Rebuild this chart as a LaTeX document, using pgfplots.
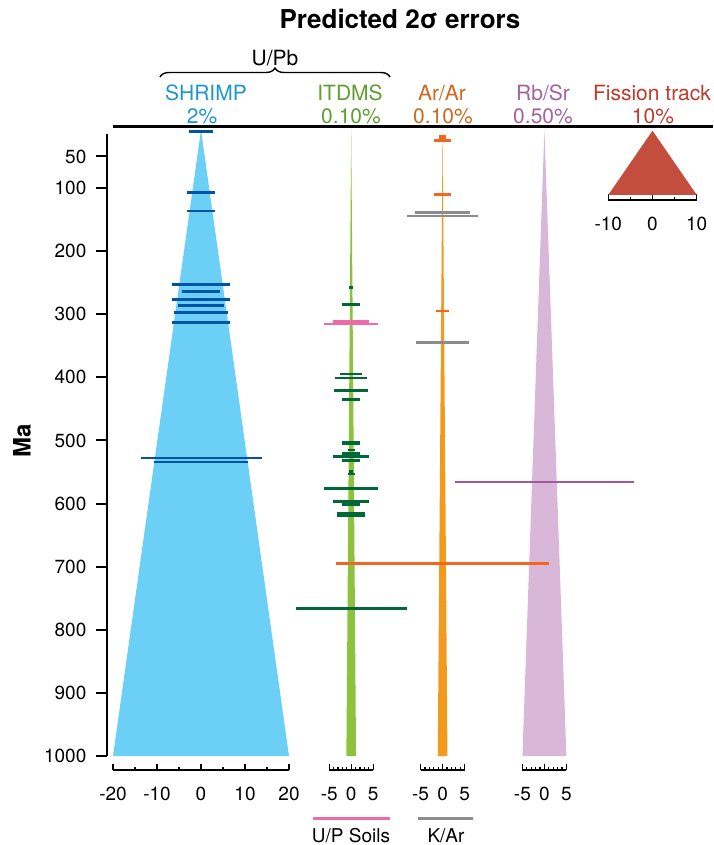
\documentclass[border=0pt]{standalone}
\usepackage{fontspec}
\setmainfont{TeX Gyre Heros}
\usepackage{pgfplots}
\usepackage{pgfplotstable}
\pgfplotsset{compat=1.18}
\usetikzlibrary{decorations.pathreplacing}

\definecolor{shrimpfill}{RGB}{108,207,246}
\definecolor{shrimpbar}{RGB}{0,84,166}
\definecolor{shrimptext}{RGB}{30,150,208}
\definecolor{itdmsfill}{RGB}{141,194,62}
\definecolor{itdmsbar}{RGB}{0,104,56}
\definecolor{itdmstext}{RGB}{96,158,48}
\definecolor{arfill}{RGB}{242,154,30}
\definecolor{arbar}{RGB}{242,101,34}
\definecolor{artext}{RGB}{206,104,30}
\definecolor{rbfill}{RGB}{216,183,216}
\definecolor{rbbar}{RGB}{160,88,156}
\definecolor{rbtext}{RGB}{166,96,158}
\definecolor{ftfill}{RGB}{196,78,62}
\definecolor{fttext}{RGB}{192,58,44}
\definecolor{kar}{RGB}{140,140,140}
\definecolor{soil}{RGB}{238,106,168}

% predicted error envelopes (half-width vs age, Ma)
\pgfplotstableread{
x y
0 8
20 1000
-20 1000
0 8
}\shrimpband
\pgfplotstableread{
x y
0 8
1.1 1000
-1.1 1000
0 8
}\itdmsband
\pgfplotstableread{
x y
0 8
1.1 1000
-1.1 1000
0 8
}\arband
\pgfplotstableread{
x y
0 8
5 1000
-5 1000
0 8
}\rbband
\pgfplotstableread{
x y
0 0
10 100
-10 100
0 0
}\ftband

% measured 2 sigma errors: age y, half-width e
\pgfplotstableread{
x y e
0 10.6 2.77
0 106.8 3.14
0 136.4 3.14
0 253 6.52
0 263.7 4.39
0 276.4 6.52
0 286.5 5.23
0 297 6.07
0 312.8 6.52
0 527.8 13.75
0 534.2 10.7
}\shrimpbars
\pgfplotstableread{
x y e
0 284 1.98
0 394.7 2.5
0 401 3.64
0 420.6 3.86
0 434.8 2.0
0 515 0.75
0 521 2.0
0 525.7 4.05
0 531.5 2.0
0 553 0.75
0 575.8 6.07
0 596.4 4.05
0 601.8 2.0
0 766.6 12.6
}\itdmsbars
\pgfplotstableread{
x y e
0 311.6 4.05
0 315.2 6.07
}\soilbars
\pgfplotstableread{
x y e
0 25 1.9
0 110.6 1.86
0 294.9 1.55
0 694.7 24.2
}\arbars
\pgfplotstableread{
x y e
0 139 6.2
0 144.3 8.07
0 345 6.1
}\karbars
\pgfplotstableread{
x y e
0 566 20.3
}\rbbars

\begin{document}
\begin{tikzpicture}
\pgfplotsset{
  panel/.style={scale only axis, anchor=north west, height=321.45pt,
    y dir=reverse, ymin=3.2, ymax=1022,
    axis y line=none, axis x line*=bottom, clip=false,
    tick align=inside,
    axis line style={line width=0.6pt},
    every tick/.style={black, line width=0.6pt},
    major tick length=2.8pt, minor tick length=1.6pt,
    xticklabel style={font=\fontsize{9.5}{11}\selectfont, yshift=-5pt},
    /pgf/number format/assume math mode=true,
    ytick=\empty},
  ebar/.style 2 args={draw=none, mark=none,
    error bars/.cd, x dir=both, x explicit,
    error mark=none, error bar style={draw=#1, line width=#2}},
}
% ---------------- SHRIMP
\begin{axis}[panel, at={(56.5pt,-63.5pt)}, width=88pt, xmin=-20, xmax=20,
  xtick={-20,-10,0,10,20}, minor xtick={-15,-5,5,15}]
\addplot[fill=shrimpfill, draw=none] table {\shrimpband};
\addplot[ebar={shrimpbar}{1.4pt}] table[x=x,y=y,x error=e] {\shrimpbars};
\end{axis}
% ---------------- Rb/Sr
\begin{axis}[panel, at={(261.2pt,-63.5pt)}, width=22pt, xmin=-5, xmax=5,
  xtick={-5,0,5}, minor xtick={-4,-3,-2,-1,1,2,3,4}]
\addplot[fill=rbfill, draw=none] table {\rbband};
\addplot[ebar={rbbar}{1.3pt}] table[x=x,y=y,x error=e] {\rbbars};
\end{axis}
% ---------------- ITDMS
\begin{axis}[panel, at={(164.6pt,-63.5pt)}, width=22pt, xmin=-5, xmax=5,
  xtick={-5,0,5}, minor xtick={-4,-3,-2,-1,1,2,3,4}]
\addplot[fill=itdmsfill, draw=none] table {\itdmsband};
\addplot[ebar={itdmsbar}{1.35pt}] table[x=x,y=y,x error=e] {\itdmsbars};
\addplot[ebar={itdmsbar}{1.5pt}] coordinates {(0,257) +- (0.52,0)};
\addplot[ebar={itdmsbar}{1.6pt}] coordinates {(0,549.5) +- (0.4,0)};
\addplot[ebar={itdmsbar}{1.9pt}] coordinates {(0,504.5) +- (2.0,0)};
\addplot[ebar={itdmsbar}{2.6pt}] coordinates {(0,617) +- (3.14,0)};
\addplot[ebar={soil}{1.35pt}] table[x=x,y=y,x error=e] {\soilbars};
\end{axis}
% ---------------- Ar/Ar
\begin{axis}[panel, at={(210.3pt,-63.5pt)}, width=22pt, xmin=-5, xmax=5,
  xtick={-5,0,5}, minor xtick={-4,-3,-2,-1,1,2,3,4}]
\addplot[fill=arfill, draw=none] table {\arband};
\addplot[ebar={arbar}{1.8pt}] coordinates {(0,18.7) +- (0.73,0)};
\addplot[ebar={arbar}{1.35pt}] table[x=x,y=y,x error=e] {\arbars};
\addplot[ebar={kar}{1.35pt}] table[x=x,y=y,x error=e] {\karbars};
\end{axis}
% ---------------- Fission track inset
\begin{axis}[panel, at={(304.15pt,-65.35pt)}, width=44.2pt, height=34.65pt,
  xmin=-10, xmax=10, ymin=0, ymax=108,
  xtick={-10,0,10}, minor xtick={-5,5}]
\addplot[fill=ftfill, draw=none] table {\ftband};
\end{axis}
% ---------------- age axis
\begin{axis}[scale only axis, anchor=north west, at={(53.5pt,-66.85pt)},
  width=303pt, height=311.15pt, xmin=0, xmax=1, ymin=14, ymax=1000,
  y dir=reverse, axis x line=none, axis y line*=left, clip=false,
  ytick={50,100,200,300,400,500,600,700,800,900,1000},
  tick align=outside, major tick length=5.5pt,
  axis line style={line width=1pt},
  every tick/.style={black, line width=1pt},
  yticklabel style={font=\fontsize{9.5}{11}\selectfont, xshift=-1.3pt},
  /pgf/number format/assume math mode=true,
  /pgf/number format/1000 sep={}]
\draw[line width=1.5pt] (axis cs:0.0099,3.2) -- (axis cs:1,3.2);
\end{axis}

% ---------------- texts
\node[anchor=base, font=\fontsize{13}{15}\selectfont\bfseries] at (200pt,-14.5pt) {Predicted 2σ errors};
\node[anchor=base, font=\fontsize{10.5}{12}\selectfont] at (137.5pt,-33pt) {U/Pb};
\draw[decorate, decoration={brace, amplitude=4.5pt}, line width=0.7pt] (80pt,-38.5pt) -- (195pt,-38.5pt);
\begin{scope}[every node/.style={anchor=base, font=\fontsize{10.5}{12}\selectfont}]
\node[text=shrimptext] at (103pt,-50.25pt) {SHRIMP};
\node[text=shrimptext] at (101pt,-61.8pt) {2\%};
\node[text=itdmstext] at (175pt,-50.25pt) {ITDMS};
\node[text=itdmstext] at (175.5pt,-61.8pt) {0.10\%};
\node[text=artext] at (221pt,-50.25pt) {Ar/Ar};
\node[text=artext] at (221.5pt,-61.8pt) {0.10\%};
\node[text=rbtext] at (271.5pt,-50.25pt) {Rb/Sr};
\node[text=rbtext] at (271.5pt,-61.8pt) {0.50\%};
\node[text=fttext] at (326pt,-50.25pt) {Fission track};
\node[text=fttext] at (326.5pt,-61.8pt) {10\%};
\end{scope}
\node[rotate=90, font=\fontsize{12}{14}\selectfont\bfseries] at (11pt,-220.5pt) {Ma};
% legend keys
\draw[soil, line width=1.5pt] (156.5pt,-409pt) -- (195pt,-409pt);
\node[anchor=base, font=\fontsize{9.5}{11}\selectfont] at (175.5pt,-421.3pt) {U/P Soils};
\draw[kar, line width=1.5pt] (209pt,-409pt) -- (236.5pt,-409pt);
\node[anchor=base, font=\fontsize{9.5}{11}\selectfont] at (223pt,-421.3pt) {K/Ar};

\pgfresetboundingbox
\path[use as bounding box] (0,0) rectangle (356.5pt,-422.5pt);
\end{tikzpicture}
\end{document}
